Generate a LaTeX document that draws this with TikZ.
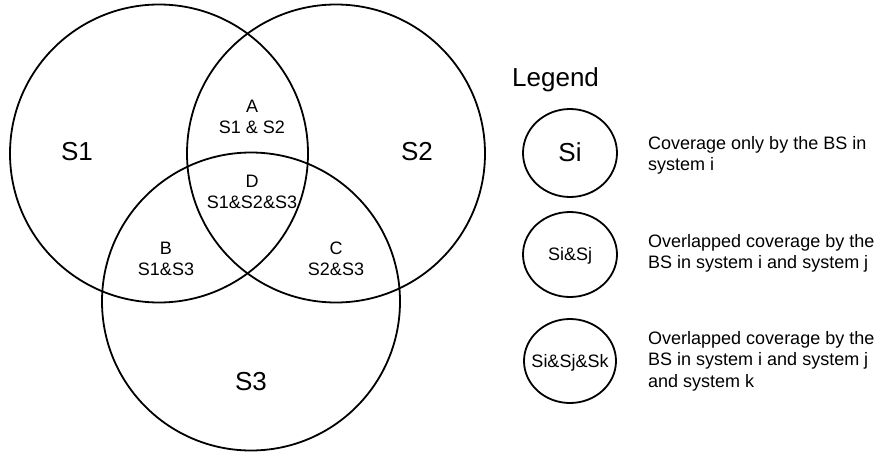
\documentclass[tikz,border=0pt]{standalone}
\usepackage{fontspec}
\setmainfont{Liberation Sans}
\usetikzlibrary{shapes.geometric}
\begin{document}
\begin{tikzpicture}[x=1pt,y=-1pt,
  venn/.style={draw,circle,line width=1.8pt,minimum size=298pt,inner sep=0pt},
  leg/.style={draw,ellipse,line width=1.8pt,inner sep=0pt},
  big/.style={font=\fontsize{26}{30}\selectfont,inner sep=0pt},
  small/.style={font=\fontsize{18}{21.5}\selectfont,inner sep=0pt,align=center},
  desc/.style={font=\fontsize{18}{21.5}\selectfont,inner sep=0pt,align=left,anchor=north west}]
\useasboundingbox (0,0) rectangle (891,455);
\node[venn] (c1) at (159,153.5) {};
\node[venn] (c2) at (336,153.5) {};
\node[venn] (c3) at (251,301.5) {};
\node[big] (t1) at (77,152) {S1};
\node[big] (t2) at (417,152) {S2};
\node[big] (t3) at (251,382) {S3};
\node[small] (ta) at (252,117) {A\\S1 \& S2};
\node[small] (td) at (252,192) {D\\S1\&S2\&S3};
\node[small] (tb) at (166,259) {B\\S1\&S3};
\node[small] (tc) at (336,259) {C\\S2\&S3};
\node[big,anchor=base west] (lg) at (512,86) {Legend};
\node[leg,minimum width=94pt,minimum height=88pt] (l1) at (570,153) {};
\node[leg,minimum width=94pt,minimum height=85pt] (l2) at (570,254.5) {};
\node[leg,minimum width=92pt,minimum height=84pt] (l3) at (570,361) {};
\node[big] (s1) at (570,152.5) {Si};
\node[small] (s2) at (570,255.5) {Si\&Sj};
\node[small] (s3) at (570,363) {Si\&Sj\&Sk};
\node[desc] (d1) at (648,136) {Coverage only by the BS in\\system i};
\node[desc] (d2) at (648,234) {Overlapped coverage by the\\BS in system i and system j};
\node[desc] (d3) at (648,331) {Overlapped coverage by the\\BS in system i and system j\\and system k};
\end{tikzpicture}
\end{document}
